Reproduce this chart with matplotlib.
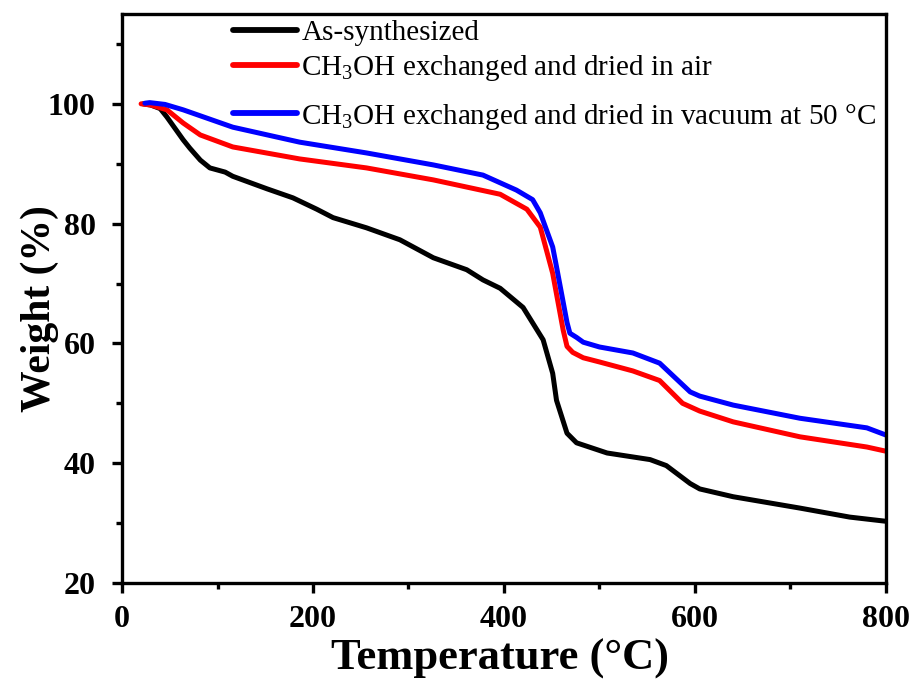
import matplotlib
matplotlib.use("Agg")
import matplotlib.pyplot as plt

plt.rcParams['font.family'] = ['Liberation Serif', 'DejaVu Serif']
plt.rcParams['mathtext.fontset'] = 'custom'
plt.rcParams['mathtext.rm'] = 'Liberation Serif'

# As-synthesized
t_black = [22, 30, 40, 47, 64, 71, 82, 92, 108, 116, 152, 179, 204, 221, 256, 291, 326, 361, 378, 396, 420,
           441, 451, 455, 466, 476, 508, 553, 570, 595, 605, 640, 710, 762, 800]
w_black = [100, 99.8, 99.2, 97.8, 94, 92.6, 90.6, 89.3, 88.6, 87.9, 85.8, 84.3, 82.4, 81, 79.3, 77.3, 74.3, 72.3,
           70.6, 69.2, 66, 60.6, 55, 50.5, 45, 43.4, 41.7, 40.6, 39.6, 36.6, 35.7, 34.4, 32.5, 31, 30.3]
# CH3OH exchanged, dried in air
t_red = [20, 30, 47, 64, 82, 116, 186, 256, 326, 361, 396, 424, 438, 451, 462, 466, 472, 483, 500,
         535, 563, 587, 605, 640, 710, 780, 800]
w_red = [100, 99.8, 99, 96.8, 94.8, 92.8, 90.8, 89.3, 87.3, 86.1, 84.9, 82.4, 79.4, 71.7, 62.2, 59.5, 58.5, 57.6,
         56.9, 55.4, 53.8, 50, 48.7, 46.9, 44.4, 42.7, 42]
# CH3OH exchanged, dried in vacuum at 50 C
t_blue = [24, 29, 45, 64, 116, 186, 256, 326, 378, 413, 430, 438, 451, 455, 466, 469, 476, 483, 500,
          535, 563, 595, 605, 640, 710, 780, 800]
w_blue = [100.1, 100.2, 99.9, 99, 96.1, 93.6, 91.8, 89.8, 88.1, 85.6, 84, 81.8, 76.1, 72.8, 63.5, 61.7, 61, 60.2,
          59.4, 58.4, 56.7, 51.9, 51.2, 49.7, 47.5, 45.9, 44.7]

labels = ['As-synthesized',
          r'CH$_3$OH exchanged and dried in air',
          r'CH$_3$OH exchanged and dried in vacuum at 50 °C']
colors = ['black', '#ff0000', '#0000ff']

fig = plt.figure(figsize=(9.16, 6.82), dpi=100)
ax = fig.add_axes([0.1332, 0.1452, 0.8340, 0.8343])

handles = []
for t, w, c, lab in zip([t_black, t_red, t_blue], [w_black, w_red, w_blue], colors, labels):
    h, = ax.plot(t, w, color=c, lw=3.6, label=lab, solid_capstyle='round', solid_joinstyle='round')
    handles.append(h)

ax.set_xlim(0, 800)
ax.set_ylim(20, 115)
ax.set_xticks([0, 200, 400, 600, 800])
ax.set_xticks([100, 300, 500, 700], minor=True)
ax.set_yticks([20, 40, 60, 80, 100])
ax.set_yticks([30, 50, 70, 90, 110], minor=True)
for s in ax.spines.values():
    s.set_linewidth(2.4)
ax.tick_params(which='major', direction='out', length=7, width=2.4, labelsize=23)
ax.tick_params(axis='x', which='major', pad=8.5)
ax.tick_params(axis='y', which='major', pad=12)
ax.tick_params(which='minor', direction='out', length=4.5, width=2.4)
ax.tick_params(top=False, right=False, which='both')
for lbl in ax.get_xticklabels() + ax.get_yticklabels():
    lbl.set_fontweight('bold')

ax.set_xlabel('Temperature (°C)', fontsize=32, fontweight='bold')
ax.set_ylabel('Weight (%)', fontsize=30, fontweight='bold')
ax.xaxis.set_label_coords(0.4948, -0.097)
ax.yaxis.set_label_coords(-0.083, 0.4815)

leg_kw = dict(frameon=False, fontsize=21, handlelength=2.2, handletextpad=0.15,
              labelspacing=0.25, borderaxespad=0)
leg1 = ax.legend(handles[:2], labels[:2], loc='upper left', bbox_to_anchor=(0.1298, 1.0103), **leg_kw)
ax.add_artist(leg1)
leg2 = ax.legend(handles[2:], labels[2:], loc='upper left', bbox_to_anchor=(0.1298, 0.8664), **leg_kw)
for lg in (leg1, leg2):
    for line in lg.get_lines():
        line.set_linewidth(4.2)

fig.savefig('out.png', dpi=100)
